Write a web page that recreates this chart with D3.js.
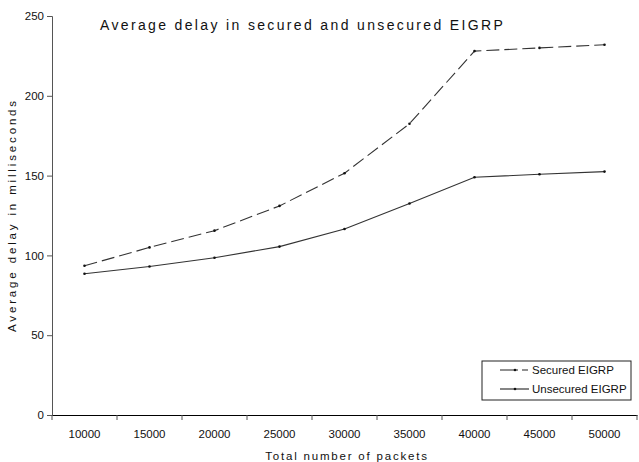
<!DOCTYPE html>
<html><head><meta charset="utf-8">
<script src="https://cdn.jsdelivr.net/npm/d3@7/dist/d3.min.js"></script>
<style>body{margin:0;background:#fff;} svg{display:block;} text{font-family:"Liberation Sans",Arial,sans-serif;fill:#111;}</style>
</head><body><svg id="c" width="639" height="462"></svg>
<script>
const categories = ["10000","15000","20000","25000","30000","35000","40000","45000","50000"];
const secured = [93.5, 105, 115.5, 131, 151.5, 182.5, 228, 230, 232];
const unsecured = [88.5, 93, 98.5, 105.5, 116.5, 132.5, 149, 150.8, 152.5];
const yTicks = [0, 50, 100, 150, 200, 250];
const seriesNames = ["Secured EIGRP", "Unsecured EIGRP"];

const svg = d3.select("#c");
const m = {l:52, r:2, t:16, b:47};
const W = 639, H = 462;
const x = d3.scaleBand().domain(categories).range([m.l, W - m.r]);
const y = d3.scaleLinear().domain([0, 250]).range([H - m.b, m.t]);

// y axis
const ya = svg.append("g").attr("transform", `translate(${m.l},0)`)
  .call(d3.axisLeft(y).tickValues(yTicks).tickSize(5).tickPadding(3));
ya.select(".domain").attr("stroke", "#555");
ya.selectAll(".tick line").attr("stroke", "#555");
ya.selectAll("text").style("font-size", "11.5px").attr("fill", "#111");

// x axis with ticks between categories
const xa = svg.append("g").attr("transform", `translate(0,${H - m.b})`)
  .call(d3.axisBottom(x).tickSize(0).tickPadding(15));
xa.select(".domain").attr("stroke", "#000").attr("stroke-width", 1.2);
xa.selectAll("text").style("font-size", "11.5px").attr("fill", "#111");
const bounds = categories.map(c => x(c)).concat([x(categories[categories.length-1]) + x.bandwidth()]);
xa.selectAll(".btick").data(bounds).enter().append("line")
  .attr("x1", d => d).attr("x2", d => d).attr("y1", 0).attr("y2", 5)
  .attr("stroke", "#555");

const line = d3.line().x((d,i) => x(categories[i]) + x.bandwidth()/2).y(d => y(d));
const series = [
  {vals: secured, dash: "13,5"},
  {vals: unsecured, dash: null}
];
series.forEach(s => {
  svg.append("path").datum(s.vals).attr("d", line).attr("fill", "none")
    .attr("stroke", "#333").attr("stroke-width", 1.1)
    .attr("stroke-dasharray", s.dash);
  svg.selectAll(null).data(s.vals).enter().append("circle")
    .attr("cx", (d,i) => x(categories[i]) + x.bandwidth()/2)
    .attr("cy", d => y(d)).attr("r", 1.3).attr("fill", "#111");
});

// title
svg.append("text").attr("x", 100).attr("y", 30).style("font-size", "14px")
  .style("letter-spacing", "2.35px").text("Average delay in secured and unsecured EIGRP");

// axis titles
svg.append("text").attr("transform", "translate(16,215) rotate(-90)").attr("text-anchor", "middle")
  .style("font-size", "11.5px").style("letter-spacing", "2.85px").text("Average delay in milliseconds");
svg.append("text").attr("x", 347).attr("y", 460).attr("text-anchor", "middle")
  .style("font-size", "11.5px").style("letter-spacing", "1.8px").text("Total number of packets");

// legend
const lg = svg.append("g");
lg.append("rect").attr("x", 482).attr("y", 361).attr("width", 149).attr("height", 39)
  .attr("fill", "#fff").attr("stroke", "#222");
seriesNames.forEach((n, i) => {
  const yy = 370 + i * 19;
  lg.append("line").attr("x1", 500).attr("x2", 529).attr("y1", yy).attr("y2", yy)
    .attr("stroke", "#222").attr("stroke-width", 1.1)
    .attr("stroke-dasharray", i === 0 ? "18,4,6,40" : null);
  lg.append("circle").attr("cx", 515).attr("cy", yy).attr("r", 1.3).attr("fill", "#111");
  lg.append("text").attr("x", 532).attr("y", yy + 4).style("font-size", "11.5px").text(n);
});
</script></body></html>
